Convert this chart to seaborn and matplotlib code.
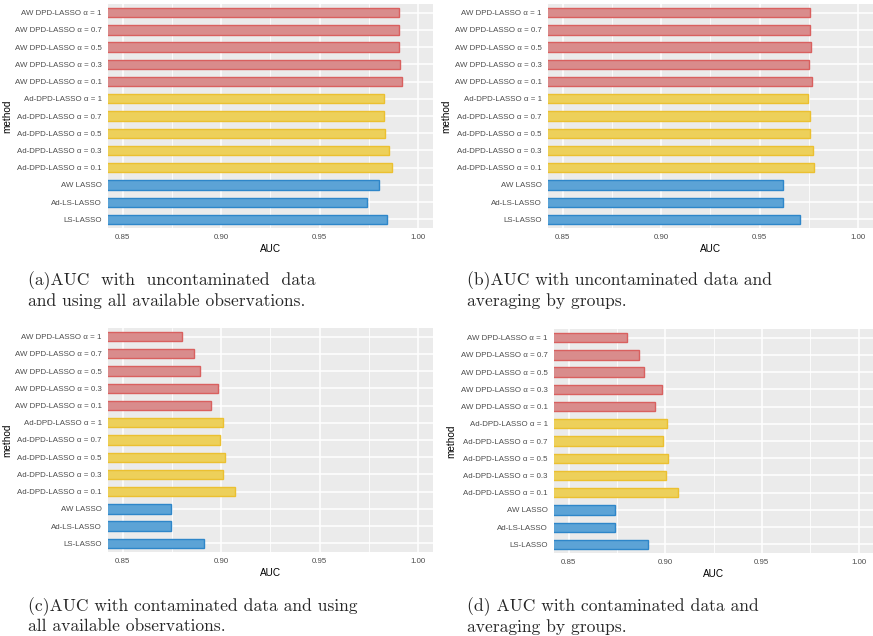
import numpy as np
import pandas as pd
import seaborn as sns
import matplotlib.pyplot as plt
from matplotlib.ticker import MultipleLocator
from matplotlib.colors import to_hex

# 方法名称（从上到下）
methods = [
    "AW DPD-LASSO α = 1", "AW DPD-LASSO α = 0.7", "AW DPD-LASSO α = 0.5",
    "AW DPD-LASSO α = 0.3", "AW DPD-LASSO α = 0.1",
    "Ad-DPD-LASSO α = 1", "Ad-DPD-LASSO α = 0.7", "Ad-DPD-LASSO α = 0.5",
    "Ad-DPD-LASSO α = 0.3", "Ad-DPD-LASSO α = 0.1",
    "AW LASSO", "Ad-LS-LASSO", "LS-LASSO",
]
groups = ["AW DPD"] * 5 + ["Ad-DPD"] * 5 + ["LASSO"] * 3
group_order = ["AW DPD", "Ad-DPD", "LASSO"]

# 四个子图的 AUC 值
auc_a = [0.9900, 0.9904, 0.9904, 0.9907, 0.9917,
         0.9825, 0.9825, 0.9830, 0.9853, 0.9865,
         0.9803, 0.9739, 0.9843]
auc_b = [0.9757, 0.9757, 0.9761, 0.9752, 0.9767,
         0.9744, 0.9757, 0.9757, 0.9769, 0.9778,
         0.9616, 0.9616, 0.9702]
auc_c = [0.8803, 0.8862, 0.8893, 0.8984, 0.8950,
         0.9009, 0.8994, 0.9019, 0.9009, 0.9070,
         0.8743, 0.8743, 0.8913]
auc_d = [0.8803, 0.8863, 0.8893, 0.8984, 0.8949,
         0.9009, 0.8991, 0.9015, 0.9004, 0.9065,
         0.8742, 0.8742, 0.8913]

captions = [
    "(a)AUC  with  uncontaminated  data\nand using all available observations.",
    "(b)AUC with uncontaminated data and\naveraging by groups.",
    "(c)AUC with contaminated data and using\nall available observations.",
    "(d) AUC with contaminated data and\naveraging by groups.",
]

fill_colors = ["#D98C8C", "#EDD05A", "#5CA3D6"]
edge_colors = ["#D9605F", "#EBC030", "#2E86C9"]

sns.set_style("darkgrid", {"axes.facecolor": "#EBEBEB", "grid.color": "white"})
plt.rcParams["font.family"] = ["Liberation Sans", "DejaVu Sans"]

fig = plt.figure(figsize=(8.73, 6.36), dpi=100)

# 子图位置 [left, bottom, width, height]
positions = [
    [0.1237, 0.6415, 0.3723, 0.3522],
    [0.6277, 0.6415, 0.3723, 0.3522],
    [0.1237, 0.1321, 0.3723, 0.3522],
    [0.6346, 0.1305, 0.3654, 0.3522],
]
caption_pos = [(0.032, 0.573), (0.535, 0.573), (0.032, 0.060), (0.535, 0.060)]
ylabel_x = [-0.295, -0.298, -0.295, -0.307]

edge_map = {to_hex(f): e for f, e in zip(fill_colors, edge_colors)}

for vals, pos, cap, cpos, lx in zip([auc_a, auc_b, auc_c, auc_d], positions,
                                    captions, caption_pos, ylabel_x):
    ax = fig.add_axes(pos)
    df = pd.DataFrame({"method": methods, "AUC": vals, "group": groups})
    sns.barplot(data=df, y="method", x="AUC", hue="group", order=methods,
                hue_order=group_order, palette=fill_colors, saturation=1,
                dodge=False, width=0.54, legend=False, linewidth=1.0, ax=ax)
    for patch in ax.patches:
        patch.set_edgecolor(edge_map.get(to_hex(patch.get_facecolor()), "none"))
    ax.set_xlim(0.8425, 1.0075)
    ax.xaxis.set_major_locator(MultipleLocator(0.05))
    ax.xaxis.set_minor_locator(MultipleLocator(0.025))
    ax.set_xticklabels([f"{t:.2f}" for t in ax.get_xticks()])
    ax.set_xlim(0.8425, 1.0075)
    ax.grid(which="major", color="white", linewidth=1.1)
    ax.grid(which="minor", axis="x", color="white", linewidth=0.6)
    ax.set_axisbelow(True)
    for s in ax.spines.values():
        s.set_visible(False)
    ax.tick_params(axis="both", which="major", length=2.5, width=0.6, color="#333333",
                   labelsize=5.7, labelcolor="#4D4D4D", pad=2)
    ax.tick_params(axis="both", which="minor", length=0)
    ax.set_xlabel("AUC", fontsize=7.2, color="black", labelpad=2)
    ax.set_ylabel("method", fontsize=7.2, color="black")
    ax.yaxis.set_label_coords(lx, 0.5)
    fig.text(cpos[0], cpos[1], cap, family="cmr10", fontsize=12.6,
             va="top", ha="left", linespacing=1.2)

plt.savefig("out.png", dpi=100)
